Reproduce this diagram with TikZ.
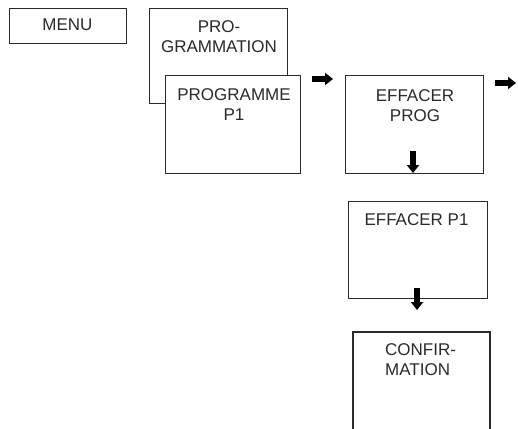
\documentclass[tikz,border=0pt]{standalone}
\usepackage{fontspec}
\setmainfont{Liberation Sans}
\usetikzlibrary{arrows.meta}
\definecolor{ink}{HTML}{2A2A2A}
\begin{document}
\begin{tikzpicture}[x=1pt,y=-1pt,
  box/.style={draw=ink, line width=1.3pt, fill=white, inner sep=0pt, anchor=north west},
  lbl/.style={text=ink, font=\fontsize{17}{20.5}\selectfont, inner sep=0pt, anchor=north, align=center},
  fat/.style={draw=black, line width=5.5pt, -{Triangle[length=8pt,width=12pt]}}]
\useasboundingbox (0,0) rectangle (518,428);
\node[box, minimum width=117pt, minimum height=35pt] (menu) at (9,8) {};
\node[box, minimum width=138pt, minimum height=95pt] (prog) at (149,8) {};
\node[box, minimum width=135pt, minimum height=98pt] (p1) at (165,75) {};
\node[box, minimum width=138pt, minimum height=98pt] (eprog) at (345,75) {};
\node[box, minimum width=139pt, minimum height=97pt] (ep1) at (348,201) {};
\path[draw=ink, line width=1.3pt] (353,429) -- (353,332) -- (490,332) -- (490,429);
\coordinate (conf) at (421.5,332);
\node[lbl] (tmenu) at (67.5,19) {MENU};
\node[lbl] (tprog) at (219,20) {PRO-\\GRAMMATION};
\node[lbl] (tp1) at (234,88) {PROGRAMME\\P1};
\node[lbl] (teprog) at (415,89) {EFFACER\\PROG};
\node[lbl] (tep1) at (416.5,213) {EFFACER P1};
\node[lbl, align=left, anchor=north west] (tconf) at (385,343) {CONFIR-\\MATION};
\coordinate (a1s) at (312,79);
\coordinate (a1e) at (333,79);
\coordinate (a2s) at (495,83);
\coordinate (a2e) at (516,83);
\coordinate (a3s) at (413,151);
\coordinate (a3e) at (413,173);
\coordinate (a4s) at (417,288);
\coordinate (a4e) at (417,310);
\draw[fat] (a1s) -- (a1e);
\draw[fat] (a2s) -- (a2e);
\draw[fat] (a3s) -- (a3e);
\draw[fat] (a4s) -- (a4e);
\end{tikzpicture}
\end{document}
